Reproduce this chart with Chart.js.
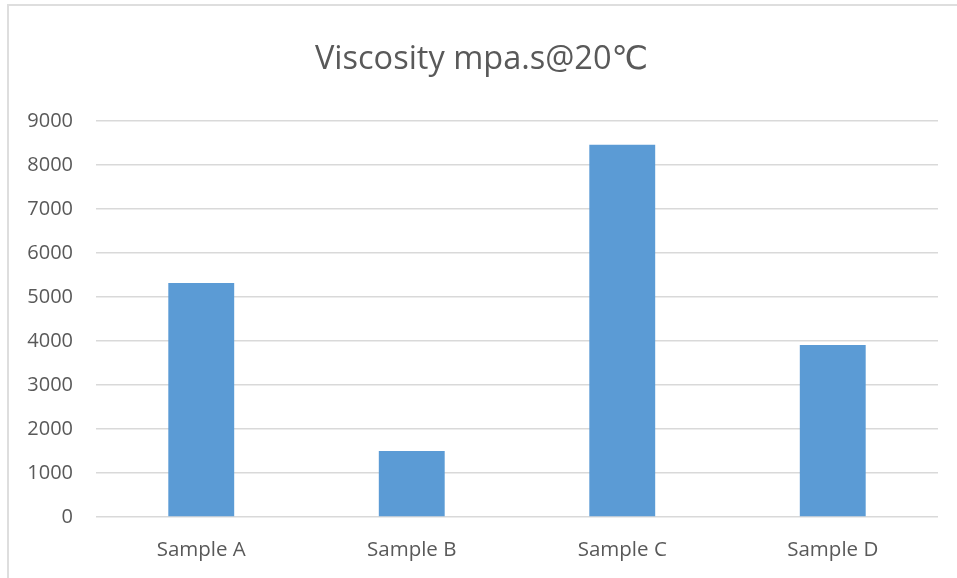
<!DOCTYPE html>
<html>
<head>
<meta charset="utf-8">
<title>Viscosity chart</title>
<script src="https://cdn.jsdelivr.net/npm/chart.js@4/dist/chart.umd.min.js"></script>
<style>
  html, body { margin: 0; padding: 0; background: #fff; }
  #wrap { position: relative; width: 957px; height: 578px; overflow: hidden; }
  #frame {
    position: absolute; left: 7px; top: 4px; width: 1000px; height: 1000px;
    border-left: 2px solid #dedede; border-top: 2px solid #dedede;
  }
  #myChart { position: absolute; left: 0; top: 0; }
</style>
</head>
<body>
<div id="wrap">
  <div id="frame"></div>
  <canvas id="myChart" width="957" height="578"></canvas>
</div>
<script>
// Chart data
const chartTitle = 'Viscosity mpa.s@20℃';
const categories = ['Sample A', 'Sample B', 'Sample C', 'Sample D'];
const viscosity = [5320, 1500, 8460, 3910];

// Y axis range
const yMin = 0;
const yMax = 9000;
const yStep = 1000;

const textColor = '#595959';
const fontFamily = '"Open Sans", "Liberation Sans", "DejaVu Sans", sans-serif';

const chart = new Chart(document.getElementById('myChart'), {
  type: 'bar',
  data: {
    labels: categories,
    datasets: [{
      label: chartTitle,
      data: viscosity,
      backgroundColor: '#5b9bd5',
      borderWidth: 0,
      categoryPercentage: 1,
      barPercentage: 0.313
    }]
  },
  options: {
    responsive: false,
    animation: false,
    layout: {
      padding: { left: 25, right: 19, top: 16, bottom: 0 }
    },
    plugins: {
      legend: { display: false },
      tooltip: { enabled: false },
      title: {
        display: true,
        text: chartTitle,
        color: textColor,
        font: { family: fontFamily, size: 32.5, weight: 'normal' },
        padding: { top: 24, bottom: 42 }
      }
    },
    scales: {
      x: {
        grid: { display: false, drawTicks: false },
        border: { display: false },
        ticks: {
          color: textColor,
          padding: 21,
          font: { family: fontFamily, size: 20.5 }
        },
        // keep the axis box short so the plot reaches down to the reference baseline
        afterFit: (scale) => { scale.height = 61; }
      },
      y: {
        min: yMin,
        max: yMax,
        grid: { color: '#d9d9d9', lineWidth: 1.5, drawTicks: false },
        border: { display: false },
        ticks: {
          stepSize: yStep,
          color: textColor,
          padding: 23,
          font: { family: fontFamily, size: 20 },
          callback: (value) => String(value)
        },
        afterFit: (scale) => { scale.width = 71; }
      }
    }
  }
});
</script>
</body>
</html>
